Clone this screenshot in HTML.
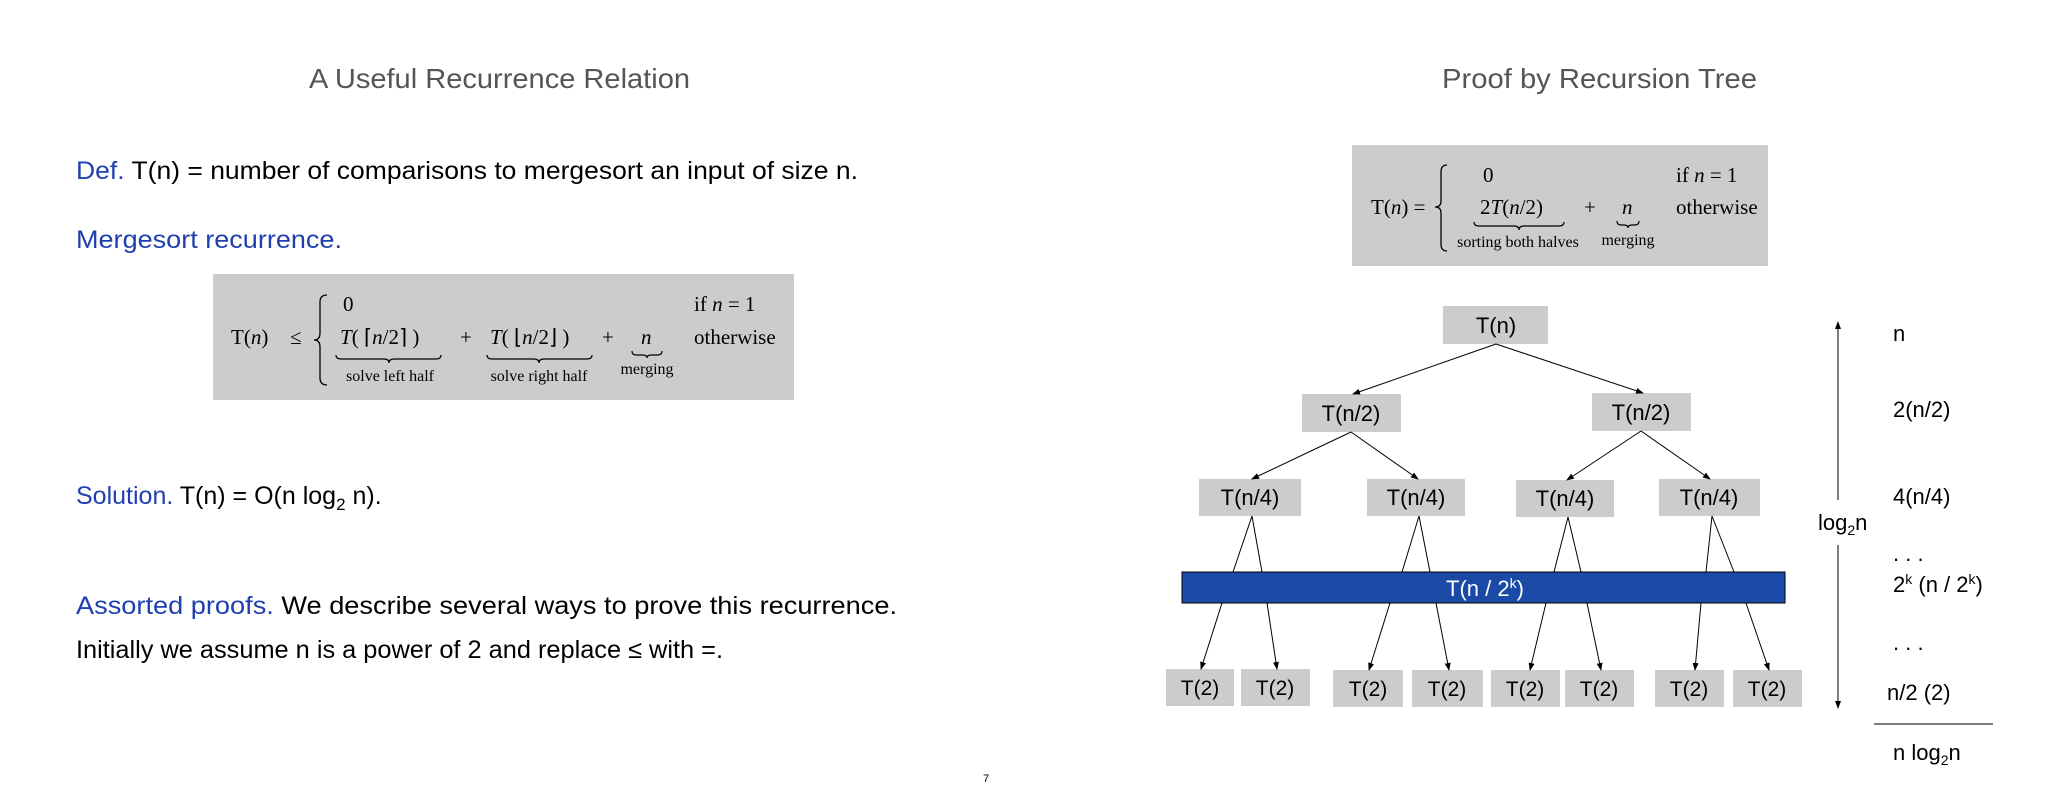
<!DOCTYPE html>
<html><head><meta charset="utf-8"><style>
html,body{margin:0;padding:0;background:#fff;width:2048px;height:800px;overflow:hidden}
svg{display:block}
.sans{font-family:"Liberation Sans","DejaVu Sans",sans-serif}
.serif{font-family:"Liberation Serif",serif}
</style></head><body>
<svg width="2048" height="800" viewBox="0 0 2048 800" xmlns="http://www.w3.org/2000/svg">
<defs><marker id="ah" markerWidth="8" markerHeight="8" refX="7" refY="4" orient="auto" markerUnits="userSpaceOnUse"><path d="M0,1 L8,4 L0,7 z" fill="#000"/></marker></defs>
<g class="sans">
<text x="309" y="88" font-size="28" fill="#555" textLength="381" lengthAdjust="spacingAndGlyphs">A Useful Recurrence Relation</text>
<text x="1442" y="88" font-size="28" fill="#555" textLength="315" lengthAdjust="spacingAndGlyphs">Proof by Recursion Tree</text>
<text x="76" y="179" font-size="25" textLength="782" lengthAdjust="spacingAndGlyphs"><tspan fill="#1f3fb0">Def.</tspan><tspan fill="#000">  T(n)  = number of comparisons to mergesort an input of size n.</tspan></text>
<text x="76" y="248" font-size="25" fill="#1f3fb0" textLength="266" lengthAdjust="spacingAndGlyphs">Mergesort recurrence.</text>
<text x="76" y="504" font-size="25"><tspan fill="#1f3fb0">Solution.</tspan><tspan fill="#000">   T(n) = O(n log</tspan><tspan font-size="17" dy="6">2</tspan><tspan dy="-6"> n).</tspan></text>
<text x="76" y="614" font-size="25" textLength="821" lengthAdjust="spacingAndGlyphs"><tspan fill="#1f3fb0">Assorted proofs.</tspan><tspan fill="#000">  We describe several ways to prove this recurrence.</tspan></text>
<text x="76" y="658" font-size="25" fill="#000" textLength="647" lengthAdjust="spacingAndGlyphs">Initially we assume n is a power of 2 and replace ≤ with =.</text>
<text x="986" y="782" font-size="11" text-anchor="middle">7</text>
</g>
<!-- left formula box -->
<rect x="213" y="274" width="581" height="126" fill="#cccccc"/>
<g class="serif" font-size="21" fill="#000">
<text x="231" y="344"><tspan>T(</tspan><tspan font-style="italic">n</tspan><tspan>)</tspan></text>
<text x="290" y="344">≤</text>
<path d="M327,295 Q320,295 320,302 L320,333 Q320,340 314,340 Q320,340 320,347 L320,378 Q320,385 327,385" fill="none" stroke="#000" stroke-width="1.3"/>
<text x="343" y="311">0</text>
<text x="340" y="344"><tspan font-style="italic">T</tspan>( ⌈<tspan font-style="italic">n</tspan>/2⌉ )</text>
<text x="460" y="344">+</text>
<text x="490" y="344"><tspan font-style="italic">T</tspan>( ⌊<tspan font-style="italic">n</tspan>/2⌋ )</text>
<text x="602" y="344">+</text>
<text x="641" y="344" font-style="italic">n</text>
<text x="694" y="311">if  <tspan font-style="italic">n</tspan> = 1</text>
<text x="694" y="344">otherwise</text>
<g font-size="16" text-anchor="middle"><text x="390" y="381">solve left half</text><text x="539" y="381">solve right half</text><text x="647" y="374">merging</text></g>
</g>
<g fill="none" stroke="#000" stroke-width="1.2">
<path d="M336,355 Q336,359 341,359 L384,359 Q389,359 389,363 Q389,359 394,359 L436,359 Q441,359 441,355"/>
<path d="M487,355 Q487,359 492,359 L534,359 Q539,359 539,363 Q539,359 544,359 L587,359 Q592,359 592,355"/>
<path d="M632,351 Q632,355 636,355 L643,355 Q647,355 647,358 Q647,355 651,355 L658,355 Q662,355 662,351"/>
</g>
<!-- right formula box -->
<rect x="1352" y="145" width="416" height="121" fill="#cccccc"/>
<g class="serif" font-size="21" fill="#000">
<text x="1371" y="214">T(<tspan font-style="italic">n</tspan>) =</text>
<path d="M1447,165 Q1441,165 1441,172 L1441,201 Q1441,207 1435,207 Q1441,207 1441,213 L1441,244 Q1441,251 1447,251" fill="none" stroke="#000" stroke-width="1.3"/>
<text x="1483" y="182">0</text>
<text x="1480" y="214">2<tspan font-style="italic">T</tspan>(<tspan font-style="italic">n</tspan>/2)</text>
<text x="1584" y="214">+</text>
<text x="1622" y="214" font-style="italic">n</text>
<text x="1676" y="182">if  <tspan font-style="italic">n</tspan> = 1</text>
<text x="1676" y="214">otherwise</text>
<g font-size="16" text-anchor="middle"><text x="1518" y="247">sorting both halves</text><text x="1628" y="245">merging</text></g>
</g>
<g fill="none" stroke="#000" stroke-width="1.2">
<path d="M1474,222 Q1474,226 1479,226 L1514,226 Q1519,226 1519,230 Q1519,226 1524,226 L1559,226 Q1564,226 1564,222"/>
<path d="M1617,221 Q1617,225 1621,225 L1624,225 Q1628,225 1628,228 Q1628,225 1632,225 L1635,225 Q1639,225 1639,221"/>
</g>
<!-- tree boxes -->
<g fill="#cccccc">
<rect x="1443" y="306" width="105" height="38"/>
<rect x="1302" y="394" width="99" height="38"/>
<rect x="1592" y="393" width="99" height="38"/>
<rect x="1199" y="479" width="102" height="37"/>
<rect x="1367" y="479" width="98" height="37"/>
<rect x="1516" y="480" width="98" height="37"/>
<rect x="1659" y="479" width="101" height="37"/>
<rect x="1166" y="669" width="68" height="37"/>
<rect x="1241" y="669" width="69" height="37"/>
<rect x="1333" y="670" width="70" height="37"/>
<rect x="1412" y="670" width="71" height="37"/>
<rect x="1491" y="670" width="69" height="37"/>
<rect x="1565" y="670" width="69" height="37"/>
<rect x="1655" y="670" width="69" height="37"/>
<rect x="1733" y="670" width="69" height="37"/>
</g>
<rect x="1182" y="572" width="603" height="31" fill="#1a4aa5" stroke="#000" stroke-width="1"/>
<g stroke="#000" stroke-width="1" fill="none">
<line x1="1496" y1="344" x2="1353" y2="394" marker-end="url(#ah)"/>
<line x1="1496" y1="344" x2="1643" y2="393" marker-end="url(#ah)"/>
<line x1="1351" y1="432" x2="1252" y2="479" marker-end="url(#ah)"/>
<line x1="1351" y1="432" x2="1418" y2="479" marker-end="url(#ah)"/>
<line x1="1641" y1="431" x2="1567" y2="480" marker-end="url(#ah)"/>
<line x1="1641" y1="431" x2="1710" y2="479" marker-end="url(#ah)"/>
<path d="M1233,572 L1252,516 L1262,572"/>
<path d="M1402,572 L1419,516 L1430,572"/>
<path d="M1554,572 L1568,517 L1581,572"/>
<path d="M1706,572 L1712,516 L1734,572"/>
<line x1="1222" y1="603" x2="1201" y2="669" marker-end="url(#ah)"/>
<line x1="1267" y1="603" x2="1277" y2="669" marker-end="url(#ah)"/>
<line x1="1390" y1="603" x2="1369" y2="670" marker-end="url(#ah)"/>
<line x1="1436" y1="603" x2="1449" y2="670" marker-end="url(#ah)"/>
<line x1="1546" y1="603" x2="1530" y2="670" marker-end="url(#ah)"/>
<line x1="1587" y1="603" x2="1601" y2="670" marker-end="url(#ah)"/>
<line x1="1701" y1="603" x2="1695" y2="670" marker-end="url(#ah)"/>
<line x1="1746" y1="603" x2="1769" y2="670" marker-end="url(#ah)"/>
<line x1="1838" y1="500" x2="1838" y2="322" marker-end="url(#ah)"/>
<line x1="1838" y1="545" x2="1838" y2="708" marker-end="url(#ah)"/>
<line x1="1874" y1="724" x2="1993" y2="724"/>
</g>
<g class="sans" font-size="22" fill="#000" text-anchor="middle">
<text x="1496" y="333">T(n)</text>
<text x="1351" y="421">T(n/2)</text>
<text x="1641" y="420">T(n/2)</text>
<text x="1250" y="505">T(n/4)</text>
<text x="1416" y="505">T(n/4)</text>
<text x="1565" y="506">T(n/4)</text>
<text x="1709" y="505">T(n/4)</text>
<g font-size="21"><text x="1200" y="695">T(2)</text><text x="1275" y="695">T(2)</text><text x="1368" y="696">T(2)</text><text x="1447" y="696">T(2)</text><text x="1525" y="696">T(2)</text><text x="1599" y="696">T(2)</text><text x="1689" y="696">T(2)</text><text x="1767" y="696">T(2)</text></g>
<text x="1485" y="596" fill="#fff">T(n / 2<tspan font-size="14" dy="-8">k</tspan><tspan dy="8">)</tspan></text>
</g>
<g class="sans" font-size="22" fill="#000">
<text x="1818" y="530">log<tspan font-size="14" dy="5">2</tspan><tspan dy="-5">n</tspan></text>
<text x="1893" y="341">n</text>
<text x="1893" y="417">2(n/2)</text>
<text x="1893" y="504">4(n/4)</text>
<text x="1893" y="561">. . .</text>
<text x="1893" y="592">2<tspan font-size="14" dy="-8">k</tspan><tspan dy="8"> (n / 2</tspan><tspan font-size="14" dy="-8">k</tspan><tspan dy="8">)</tspan></text>
<text x="1893" y="650">. . .</text>
<text x="1887" y="700">n/2 (2)</text>
<text x="1893" y="760">n log<tspan font-size="14" dy="5">2</tspan><tspan dy="-5">n</tspan></text>
</g>
</svg>
</body></html>
